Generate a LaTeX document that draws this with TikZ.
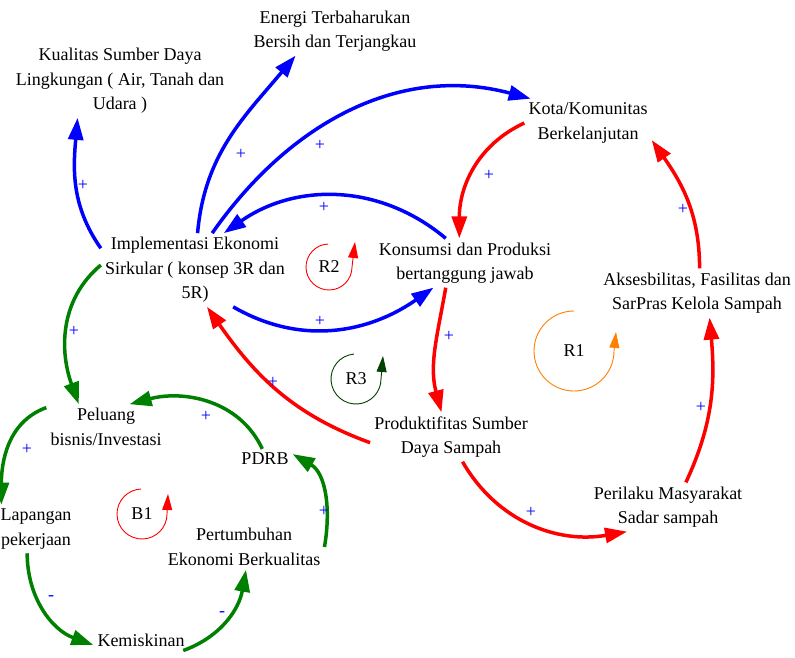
\documentclass[tikz,border=0pt]{standalone}
\usepackage{fontspec}
\setmainfont{Liberation Serif}
\newfontfamily\cldfont{Liberation Serif}
\usetikzlibrary{arrows.meta}

\definecolor{linkblue}{RGB}{0,0,255}
\definecolor{linkred}{RGB}{255,0,0}
\definecolor{linkgreen}{RGB}{0,128,0}
\definecolor{loopdark}{RGB}{0,64,0}
\definecolor{looporange}{RGB}{255,128,0}

\begin{document}
\begin{tikzpicture}[
  x=1pt, y=1pt,
  var/.style={align=center, inner sep=4pt, font=\cldfont\fontsize{18}{24.5}\selectfont},
  link/.style={line width=3.5pt, -{Triangle[length=22pt,width=15pt]}},
  sign/.style={text=linkblue, inner sep=0pt, font=\cldfont\fontsize{18}{18}\selectfont},
  loopname/.style={inner sep=0pt, font=\cldfont\fontsize{18}{18}\selectfont},
  looparc/.style={line width=0.9pt, -{Triangle[length=16pt,width=10pt]}}
]
\useasboundingbox (0,0) rectangle (795,-658);

% variables
\node[var] (kual) at (120,-81) {Kualitas Sumber Daya\\Lingkungan ( Air, Tanah dan\\Udara )};
\node[var] (energi) at (335,-31) {Energi Terbaharukan\\Bersih dan Terjangkau};
\node[var] (kota) at (588,-123) {Kota/Komunitas\\Berkelanjutan};
\node[var] (impl) at (195,-270) {Implementasi Ekonomi\\Sirkular ( konsep 3R dan\\5R)};
\node[var] (kons) at (465,-263) {Konsumsi dan Produksi\\bertanggung jawab};
\node[var] (aks) at (697,-293) {Aksesbilitas, Fasilitas dan\\SarPras Kelola Sampah};
\node[var] (prod) at (451,-437) {Produktifitas Sumber\\Daya Sampah};
\node[var] (peril) at (668,-507) {Perilaku Masyarakat\\Sadar sampah};
\node[var] (pel) at (106,-427) {Peluang\\bisnis/Investasi};
\node[var] (pdrb) at (265,-459) {PDRB};
\node[var] (lap) at (36,-529) {Lapangan\\pekerjaan};
\node[var] (kem) at (141,-640) {Kemiskinan};
\node[var] (pert) at (244,-547) {Pertumbuhan\\Ekonomi Berkualitas};

% blue links
\draw[link, linkblue] (impl.167) to[out=125, in=-95] (kual.221);
\draw[link, linkblue] (impl.86) to[out=85, in=230] (energi.212);
\draw[link, linkblue] (impl.65) to[out=55, in=165] (kota.157);
\draw[link, linkblue] (kons.128) to[out=140, in=35] (impl.52);
\draw[link, linkblue] (impl.-44) to[out=-30, in=215] (kons.218);

% red links
\draw[link, linkred] (kota.180) to[out=205, in=90] (kons.103);
\draw[link, linkred] (aks.84) to[out=90, in=-55] (kota.-15);
\draw[link, linkred] (peril.54) to[out=65, in=-85] (aks.-63);
\draw[link, linkred] (prod.-65) to[out=-60, in=190] (peril.211);
\draw[link, linkred] (kons.232) to[out=-100, in=105] (prod.111);
\draw[link, linkred] (prod.184) to[out=160, in=-55] (impl.-72);

% green links
\draw[link, linkgreen] (impl.177) to[out=220, in=110] (pel.140);
\draw[link, linkgreen] (pdrb.105) to[out=115, in=15] (pel.44);
\draw[link, linkgreen] (pel.162) to[out=200, in=90] (lap.145);
\draw[link, linkgreen] (lap.-110) to[out=-90, in=160] (kem.186);
\draw[link, linkgreen] (kem.-14) to[out=20, in=-100] (pert.-85);
\draw[link, linkgreen] (pert.0) to[out=80, in=-30] (pdrb.10);

% polarities
\node[sign] (s1) at (83,-185) {+};
\node[sign] (s2) at (241,-154) {+};
\node[sign] (s3) at (320,-145) {+};
\node[sign] (s4) at (324,-207) {+};
\node[sign] (s5) at (320,-321) {+};
\node[sign] (s6) at (489,-175) {+};
\node[sign] (s7) at (683,-209) {+};
\node[sign] (s8) at (701,-407) {+};
\node[sign] (s9) at (531,-512) {+};
\node[sign] (s10) at (449,-336) {+};
\node[sign] (s11) at (273,-382) {+};
\node[sign] (s12) at (74,-331) {+};
\node[sign] (s13) at (206,-416) {+};
\node[sign] (s14) at (27,-449) {+};
\node[sign] (s15) at (51,-598) {-};
\node[sign] (s16) at (222,-614) {-};
\node[sign] (s17) at (324,-511) {+};

% loop markers
\node[loopname] (r2) at (329,-267) {R2};
\draw[looparc, linkred] ([shift={(92:23)}]r2.center) arc[start angle=92, end angle=360, radius=23] -- ++(3,25);
\node[loopname] (r3) at (356,-379) {R3};
\draw[looparc, loopdark] ([shift={(95:25)}]r3.center) arc[start angle=95, end angle=360, radius=25] -- ++(2,23);
\node[loopname] (r1) at (574,-351) {R1};
\draw[looparc, looporange] ([shift={(90:40)}]r1.center) arc[start angle=90, end angle=360, radius=40] -- ++(2,19);
\node[loopname] (b1) at (142,-514) {B1};
\draw[looparc, linkred] ([shift={(92:25)}]b1.center) arc[start angle=92, end angle=360, radius=25] -- ++(1,20);
\end{tikzpicture}
\end{document}
